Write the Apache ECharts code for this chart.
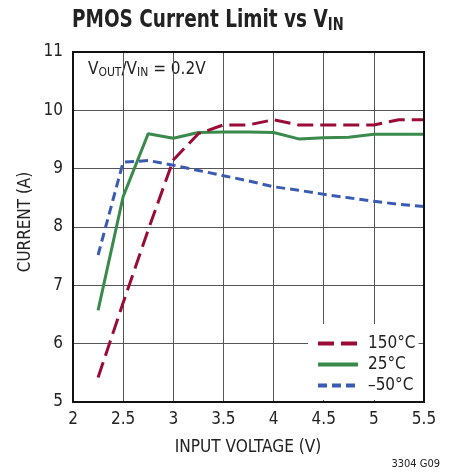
<!DOCTYPE html>
<html><head><meta charset="utf-8">
<script src="https://cdn.jsdelivr.net/npm/echarts@6/dist/echarts.min.js"></script>
<style>html,body{margin:0;padding:0;background:#fff}#c{width:453px;height:474px}</style>
</head><body><div id="c"></div>
<script>
const vin = [2.25, 2.5, 2.75, 3, 3.25, 3.5, 3.75, 4, 4.25, 4.5, 4.75, 5, 5.25, 5.5];
const i150 = [5.42, 6.7, 7.95, 9.15, 9.6, 9.75, 9.75, 9.84, 9.75, 9.75, 9.75, 9.75, 9.84, 9.84];
const i25  = [6.57, 8.52, 9.6, 9.52, 9.62, 9.63, 9.63, 9.62, 9.51, 9.53, 9.54, 9.59, 9.59, 9.59];
const iM50 = [7.52, 9.11, 9.14, 9.06, 8.97, 8.88, 8.79, 8.69, 8.63, 8.56, 8.5, 8.44, 8.39, 8.35];
const seriesNames = ['150°C', '25°C', '–50°C'];
const xTicks = [2, 2.5, 3, 3.5, 4, 4.5, 5, 5.5];
const yTicks = [5, 6, 7, 8, 9, 10, 11];
const xTitle = 'INPUT VOLTAGE (V)';
const yTitle = 'CURRENT (A)';

const font = '"DejaVu Sans Condensed", sans-serif';
const pair = a => vin.map((x, k) => [x, a[k]]);
const chart = echarts.init(document.getElementById('c'));
chart.setOption({
  animation: false,
  grid: { left: 73, top: 52, right: 29, bottom: 72, show: true, borderColor: '#111', borderWidth: 2, backgroundColor: 'transparent', z: 5 },
  xAxis: {
    type: 'value', min: xTicks[0], max: xTicks[xTicks.length-1], interval: 0.5,
    axisLine: { show: false }, axisTick: { show: false },
    axisLabel: { fontFamily: font, fontSize: 17, color: '#222', margin: 9 },
    splitLine: { lineStyle: { color: '#555', width: 1 } }
  },
  yAxis: {
    type: 'value', min: yTicks[0], max: yTicks[yTicks.length-1], interval: 1,
    axisLine: { show: false }, axisTick: { show: false },
    axisLabel: { fontFamily: font, fontSize: 17, color: '#222', margin: 10 },
    splitLine: { lineStyle: { color: '#555', width: 1 } }
  },
  legend: {
    left: 308, top: 324, orient: 'vertical', itemGap: 4,
    itemWidth: 40, itemHeight: 16,
    backgroundColor: '#fff', padding: [11, 3, 6, 8],
    itemStyle: { opacity: 0 },
    lineStyle: { width: 4 },
    textStyle: { fontFamily: font, fontSize: 17, color: '#222', padding: [0, 0, 0, 5] },
    data: seriesNames
  },
  series: [
    { name: seriesNames[0], type: 'line', data: pair(i150), symbol: 'none', z: 3,
      lineStyle: { color: '#9a0b35', width: 3, type: [16, 7] }, itemStyle: { color: '#9a0b35' } },
    { name: seriesNames[1], type: 'line', data: pair(i25), symbol: 'none', z: 2,
      lineStyle: { color: '#3a8a4c', width: 3 }, itemStyle: { color: '#3a8a4c' } },
    { name: seriesNames[2], type: 'line', data: pair(iM50), symbol: 'none', z: 1,
      lineStyle: { color: '#3a5bb2', width: 3, type: [9, 5] }, itemStyle: { color: '#3a5bb2' } }
  ],
  graphic: [
    { type: 'text', x: 72, y: 7, scaleX: 0.855, style: {
      text: '{a|PMOS Current Limit vs V}{s|IN}',
      rich: { a: { fontFamily: font, fontSize: 24, fontWeight: 'bold', fill: '#222' },
              s: { fontFamily: font, fontSize: 17, fontWeight: 'bold', fill: '#222', padding: [10, 0, 0, 0] } } } },
    { type: 'text', x: 88, y: 61, style: {
      text: '{a|V}{s|OUT}{a|/V}{s|IN}{a| = 0.2V}',
      rich: { a: { fontFamily: font, fontSize: 17, fill: '#222' },
              s: { fontFamily: font, fontSize: 12, fill: '#222', padding: [6, 0, 0, 0] } } } },
    { type: 'text', x: 248, y: 447, scaleX: 0.95, style: { text: xTitle, fontFamily: font, fontSize: 18, fill: '#222', align: 'center', verticalAlign: 'middle' } },
    { type: 'text', x: 25, y: 222, rotation: Math.PI / 2, scaleX: 0.94, style: { text: yTitle, fontFamily: font, fontSize: 18, fill: '#222', align: 'center', verticalAlign: 'middle' } },
    { type: 'text', x: 440, y: 464, style: { text: '3304 G09', fontFamily: font, fontSize: 11, fill: '#222', align: 'right', verticalAlign: 'middle' } }
  ]
});
</script></body></html>
